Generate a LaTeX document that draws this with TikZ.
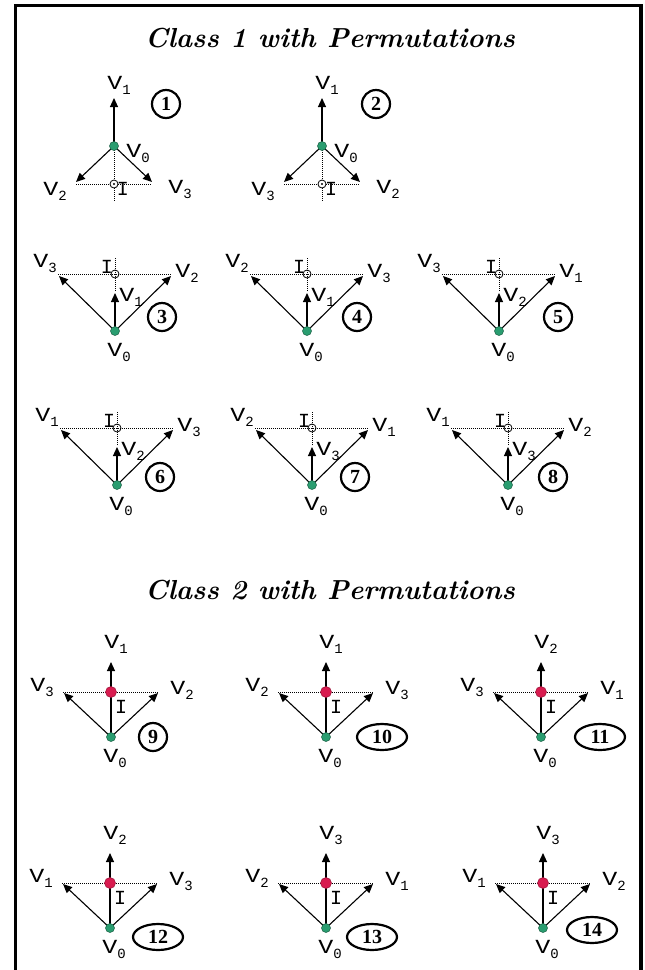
\documentclass[tikz,border=0pt]{standalone}
\usepackage{fontspec}
\usepackage{graphicx}
\usetikzlibrary{arrows.meta,shapes.geometric}
\newfontfamily\lblf{Liberation Mono}
\newfontfamily\numf{Liberation Serif}
\definecolor{vgreen}{HTML}{2A9D70}
\definecolor{ired}{HTML}{D81B4F}
\newcommand\VV[1]{\scalebox{1.25}[1]{V}\raisebox{-5pt}{\fontsize{14}{14}\selectfont #1}}
\tikzset{
  edge/.style={line width=1.1pt, -{Triangle[length=9pt,width=8pt]}},
  guide/.style={line width=0.9pt, dash pattern=on 1pt off 1pt},
  lbl/.style={font=\lblf\fontsize{20}{20}\selectfont, inner sep=0pt},
  numc/.style={circle, draw, line width=2.2pt, minimum size=28pt, inner sep=0pt, font=\numf\bfseries\fontsize{20}{20}\selectfont},
  nume/.style={ellipse, draw, line width=2.2pt, minimum width=50pt, minimum height=26pt, inner sep=0pt, font=\numf\bfseries\fontsize{20}{20}\selectfont},
  v0dot/.style={circle, fill=vgreen, draw=vgreen!60!black, line width=0.5pt, minimum size=9pt, inner sep=0pt},
  idot/.style={circle, fill=ired, draw=ired!70!black, line width=0.5pt, minimum size=11pt, inner sep=0pt},
  imark/.style={circle, draw, line width=0.8pt, minimum size=8pt, inner sep=0pt},
  ttl/.style={font=\bfseries\itshape\fontsize{27.5}{27.5}\selectfont, inner sep=0pt},
  frame/.style={line width=3.5pt, line join=miter}
}
% Class 1, first form
\newcommand\diagA[5]{%
 \begin{scope}[shift={(#2,#3)}]
  \coordinate (#1v0) at (0,0);
  \coordinate (#1v1) at (0,-48);
  \coordinate (#1l) at (-38,36);
  \coordinate (#1r) at (38,36);
  \coordinate (#1hl) at (-38,38);
  \coordinate (#1hr) at (38,38);
  \coordinate (#1bot) at (0,56);
  \draw[guide] (#1hl) -- (#1hr);
  \draw[guide] (#1v0) -- (#1bot);
  \draw[edge] (#1v0) -- (#1v1);
  \draw[edge] (#1v0) -- (#1l);
  \draw[edge] (#1v0) -- (#1r);
  \node[imark, fill=white] (#1i) at (0,38) {};
  \fill (#1i.center) circle (1.2pt);
  \node[v0dot] (#1v0n) at (#1v0) {};
  \node[lbl] (#1t1) at (5,-61) {\VV1};
  \node[lbl] (#1t0) at (24,7) {\VV0};
  \node[lbl] (#1tl) at (-59,45) {\VV{#4}};
  \node[lbl] (#1tr) at (66,43) {\VV{#5}};
  \node[lbl] (#1ti) at (9,43) {I};
 \end{scope}}
% Class 1, second form
\newcommand\diagB[6]{%
 \begin{scope}[shift={(#2,#3)}]
  \coordinate (#1v0) at (0,0);
  \coordinate (#1l) at (-56,-55);
  \coordinate (#1r) at (56,-55);
  \coordinate (#1hl) at (-57,-57);
  \coordinate (#1hr) at (57,-57);
  \coordinate (#1up) at (0,-38);
  \coordinate (#1gb) at (0,-40);
  \coordinate (#1top) at (0,-73);
  \draw[guide] (#1hl) -- (#1hr);
  \draw[guide] (#1gb) -- (#1top);
  \draw[edge] (#1v0) -- (#1l);
  \draw[edge] (#1v0) -- (#1r);
  \draw[edge] (#1v0) -- (#1up);
  \node[imark] (#1i) at (0,-57) {};
  \node[v0dot] (#1v0n) at (#1v0) {};
  \node[lbl] (#1tl) at (-70,-68) {\VV{#4}};
  \node[lbl] (#1tr) at (72,-58) {\VV{#5}};
  \node[lbl] (#1tu) at (16,-34) {\VV{#6}};
  \node[lbl] (#1ti) at (-8,-64) {I};
  \node[lbl] (#1t0) at (4,21) {\VV0};
 \end{scope}}
% Class 2
\newcommand\diagC[6]{%
 \begin{scope}[shift={(#2,#3)}]
  \coordinate (#1v0) at (0,0);
  \coordinate (#1t) at (0,-75);
  \coordinate (#1l) at (-47,-44);
  \coordinate (#1r) at (47,-44);
  \coordinate (#1hl) at (-48,-45);
  \coordinate (#1hr) at (48,-45);
  \draw[guide] (#1hl) -- (#1hr);
  \draw[edge] (#1v0) -- (#1t);
  \draw[edge] (#1v0) -- (#1l);
  \draw[edge] (#1v0) -- (#1r);
  \node[idot] (#1i) at (0,-45) {};
  \node[v0dot] (#1v0n) at (#1v0) {};
  \node[lbl] (#1tt) at (5,-93) {\VV{#4}};
  \node[lbl] (#1tl) at (-69,-50) {\VV{#5}};
  \node[lbl] (#1tr) at (71,-47) {\VV{#6}};
  \node[lbl] (#1ti) at (10,-30) {I};
  \node[lbl] (#1t0) at (4,21) {\VV0};
 \end{scope}}
\begin{document}
\begin{tikzpicture}[x=1pt,y=-1pt]
\useasboundingbox (0,0) rectangle (645,970);
\coordinate (fbl) at (15.5,985);
\coordinate (ftl) at (15.5,5.5);
\coordinate (ftr) at (641,5.5);
\coordinate (fbr) at (641,985);
\draw[frame] (fbl) -- (ftl) -- (ftr) -- (fbr);

\node[ttl] (title1) at (330,38) {Class 1 with Permutations};
\node[ttl] (title2) at (330,590) {Class 2 with Permutations};

\diagA{a}{114}{146}{2}{3}
\diagA{b}{322}{146}{3}{2}
\node[numc] (n1) at (166,104) {1};
\node[numc] (n2) at (376,104) {2};

\diagB{c}{115}{331}{3}{2}{1}
\diagB{d}{307}{331}{2}{3}{1}
\diagB{e}{499}{331}{3}{1}{2}
\node[numc] (n3) at (162,317) {3};
\node[numc] (n4) at (357,317) {4};
\node[numc] (n5) at (558,317) {5};

\diagB{f}{117}{485}{1}{3}{2}
\diagB{g}{312}{485}{2}{1}{3}
\diagB{h}{508}{485}{1}{2}{3}
\node[numc] (n6) at (160,477) {6};
\node[numc] (n7) at (355,477) {7};
\node[numc] (n8) at (553,477) {8};

\diagC{i}{111}{737}{1}{3}{2}
\diagC{j}{326}{737}{1}{2}{3}
\diagC{k}{541}{737}{2}{3}{1}
\node[numc] (n9) at (153,737) {9};
\node[nume] (n10) at (382,737) {10};
\node[nume] (n11) at (600,737) {11};

\diagC{l}{110}{928}{2}{1}{3}
\diagC{m}{326}{928}{3}{2}{1}
\diagC{n}{543}{928}{3}{1}{2}
\node[nume] (n12) at (158,937) {12};
\node[nume] (n13) at (372,937) {13};
\node[nume] (n14) at (592,930) {14};
\end{tikzpicture}
\end{document}
